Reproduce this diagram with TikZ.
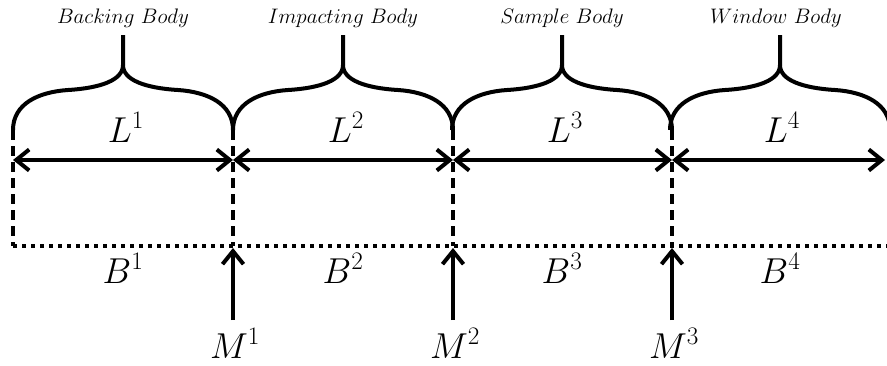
\documentclass[tikz,border=0pt]{standalone}
\usepackage{fix-cm}
\usetikzlibrary{arrows.meta}
\begin{document}
\begin{tikzpicture}[x=1pt,y=-1pt,
  thick line/.style={line width=4pt},
  bracepath/.style={line width=4pt,line join=round},
  dashline/.style={line width=4pt,dash pattern=on 10pt off 6pt},
  dotline/.style={line width=4pt,dash pattern=on 4pt off 5pt},
  barb/.style={-{Straight Barb[length=13pt,width=21pt,line width=4pt]}},
  dbarb/.style={{Straight Barb[length=13pt,width=21pt,line width=4pt]}-{Straight Barb[length=13pt,width=21pt,line width=4pt]}},
  bodytitle/.style={anchor=base,inner sep=0pt,font=\fontsize{21}{24}\selectfont},
  lab/.style={anchor=base,inner sep=0pt,font=\fontsize{36}{40}\selectfont}]
\useasboundingbox (0,0) rectangle (887,365);
% vertical positions
\foreach \i/\x in {0/13,1/233,2/453,3/672}{
  \coordinate (t\i) at (\x,130);
  \coordinate (a\i) at (\x,160);
  \coordinate (b\i) at (\x,246);
}
\coordinate (t4) at (887,130);
\coordinate (a4) at (885,160);
% braces
\foreach \i/\c in {0/123,1/343,2/562,3/780}{
  \coordinate (c\i) at (\c,65);
  \coordinate (s\i) at (\c,35);
  \draw[bracepath] (\c-110,130) .. controls (\c-110,104) and (\c-85,92) .. (\c-55,90)
     .. controls (\c-22,88) and (\c,80) .. (c\i) -- (s\i);
  \draw[bracepath] (c\i) .. controls (\c,80) and (\c+22,88) .. (\c+55,90)
     .. controls (\c+85,92) and (\c+110,104) .. (\c+110,130);
}
% titles
\node[bodytitle] (n1) at (123,23) {$Backing\ Body$};
\node[bodytitle] (n2) at (343,23) {$Impacting\ Body$};
\node[bodytitle] (n3) at (562,23) {$Sample\ Body$};
\node[bodytitle] (n4) at (776,23) {$Window\ Body$};
% vertical dashed lines
\foreach \i in {0,1,2,3}{
  \draw[dashline] (t\i) -- (b\i);
}
% dotted horizontal
\coordinate (bend) at (887,246);
\draw[dotline] (b0) -- (bend);
% length arrows
\draw[thick line,dbarb] (a0) -- (a1);
\draw[thick line,dbarb] (a1) -- (a2);
\draw[thick line,dbarb] (a2) -- (a3);
\draw[thick line,dbarb] (a3) -- (a4);
% L labels
\node[lab] (L1) at (126,142) {$L^1$};
\node[lab] (L2) at (346,142) {$L^2$};
\node[lab] (L3) at (565,142) {$L^3$};
\node[lab] (L4) at (782,142) {$L^4$};
% B labels
\node[lab] (B1) at (123,283) {$B^1$};
\node[lab] (B2) at (343,283) {$B^2$};
\node[lab] (B3) at (562,283) {$B^3$};
\node[lab] (B4) at (780,283) {$B^4$};
% M arrows
\foreach \i/\x in {1/233,2/453,3/672}{
  \coordinate (m\i) at (\x,320);
  \coordinate (mt\i) at (\x,248);
  \draw[thick line,barb] (m\i) -- (mt\i);
  \node[lab] (M\i) at (\x+2,358) {$M^{\i}$};
}
\end{tikzpicture}
\end{document}
